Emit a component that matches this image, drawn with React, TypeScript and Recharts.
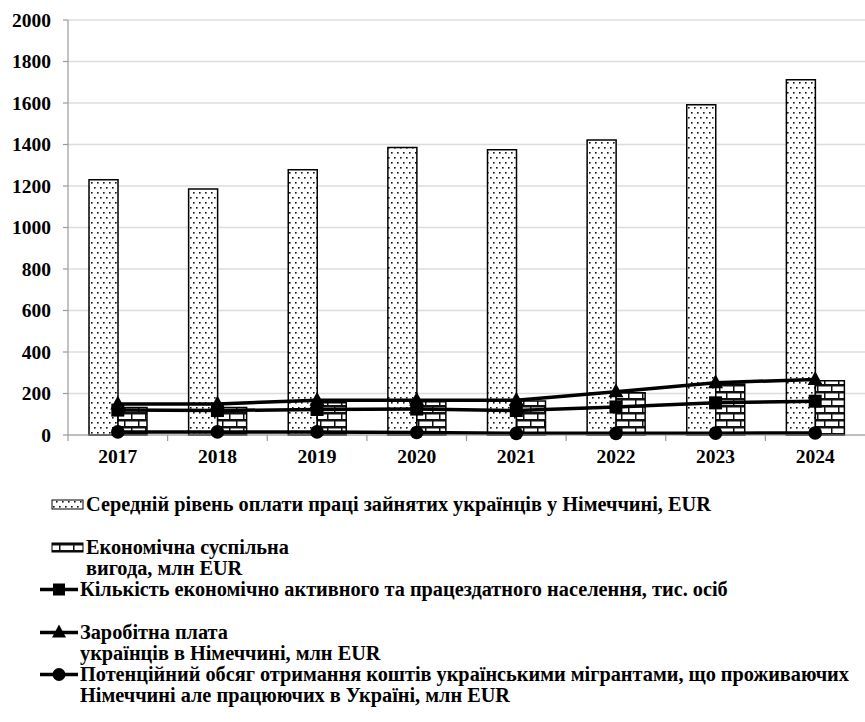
import React from 'react';
import { ComposedChart, Bar, Line, XAxis, YAxis, CartesianGrid } from 'recharts';

const years = ['2017', '2018', '2019', '2020', '2021', '2022', '2023', '2024'];
const avgWage = [1230, 1185, 1278, 1385, 1375, 1422, 1592, 1712];
const socialBenefit = [133, 133, 156, 160, 164, 204, 246, 262];
const activePopulation = [120, 118, 123, 125, 118, 135, 155, 163];
const wagesTotal = [150, 150, 168, 168, 168, 209, 252, 268];
const potentialFunds = [15, 15, 15, 12, 8, 8, 9, 10];
const yTicks = [0, 200, 400, 600, 800, 1000, 1200, 1400, 1600, 1800, 2000];

const labels = {
  avgWage: 'Середній рівень оплати праці зайнятих українців у Німеччині, EUR',
  socialBenefit: ['Економічна суспільна', 'вигода, млн EUR'],
  activePopulation: 'Кількість економічно активного та працездатного населення, тис. осіб',
  wagesTotal: ['Заробітна плата', 'українців в Німеччині, млн EUR'],
  potentialFunds: [
    'Потенційний обсяг отримання коштів українськими мігрантами, що проживаючих',
    'Німеччині але працюючих в Україні, млн EUR',
  ],
};

const data = years.map((year, i) => ({
  year,
  avgWage: avgWage[i],
  socialBenefit: socialBenefit[i],
  activePopulation: activePopulation[i],
  wagesTotal: wagesTotal[i],
  potentialFunds: potentialFunds[i],
}));

const FONT = '"Liberation Serif", "Times New Roman", serif';
const X_TICK_MARGIN = 14;

function Patterns({ prefix }: { prefix: string }) {
  return (
    <defs>
      <pattern id={`${prefix}-dots`} patternUnits="userSpaceOnUse" width="6" height="10">
        <rect width="6" height="10" fill="#fff" />
        <rect x="1" y="2" width="1.6" height="1.6" fill="#111" />
        <rect x="4" y="7" width="1.6" height="1.6" fill="#111" />
      </pattern>
      <pattern id={`${prefix}-bricks`} patternUnits="userSpaceOnUse" width="14" height="14">
        <rect width="14" height="14" fill="#111" />
        <rect x="0" y="1.5" width="12" height="4.5" fill="#fff" />
        <rect x="13.5" y="1.5" width="0.5" height="4.5" fill="#fff" />
        <rect x="0" y="8.5" width="5" height="4.5" fill="#fff" />
        <rect x="6.5" y="8.5" width="7.5" height="4.5" fill="#fff" />
      </pattern>
    </defs>
  );
}

function XTick(props: any) {
  const { x, y, payload } = props;
  const off = payload && payload.offset ? payload.offset : 0;
  const axisY = y - X_TICK_MARGIN;
  return (
    <g>
      <line x1={x - off} x2={x - off} y1={axisY} y2={axisY + 6} stroke="#9a9a9a" strokeWidth={1.2} />
      <text x={x} y={y} dy="0.71em" textAnchor="middle" fontFamily={FONT} fontWeight="bold" fontSize={19.5} fill="#000">
        {payload.value}
      </text>
    </g>
  );
}

function SquareDot(props: any) {
  const { cx, cy } = props;
  if (cx == null || cy == null) return null;
  return <rect x={cx - 6.5} y={cy - 6.5} width={13} height={13} fill="#000" />;
}

function TriangleDot(props: any) {
  const { cx, cy } = props;
  if (cx == null || cy == null) return null;
  return <path d={`M${cx},${cy - 8.5} L${cx + 7.5},${cy + 5.5} L${cx - 7.5},${cy + 5.5} Z`} fill="#000" />;
}

function CircleDot(props: any) {
  const { cx, cy } = props;
  if (cx == null || cy == null) return null;
  return <circle cx={cx} cy={cy} r={6.8} fill="#000" />;
}

const textStyle: React.CSSProperties = {
  fontFamily: FONT,
  fontWeight: 'bold',
  fontSize: 20.3,
  lineHeight: '21px',
  color: '#000',
  whiteSpace: 'nowrap',
};

function LegendIcon({ kind }: { kind: string }) {
  const isBar = kind === 'dots' || kind === 'bricks';
  return (
    <svg width={isBar ? 46 : 40} height={21} style={{ display: 'block', flex: 'none' }}>
      <Patterns prefix={`lg-${kind}`} />
      {kind === 'dots' && (
        <rect x={12} y={6} width={31} height={9} fill={`url(#lg-${kind}-dots)`} stroke="#000" strokeWidth={1} />
      )}
      {kind === 'bricks' && (
        <rect x={12} y={6} width={31} height={9} fill={`url(#lg-${kind}-bricks)`} stroke="#000" strokeWidth={1} />
      )}
      {!isBar && <line x1={0} x2={38} y1={10.5} y2={10.5} stroke="#000" strokeWidth={3.5} />}
      {kind === 'square' && <rect x={13} y={4.5} width={12} height={12} fill="#000" />}
      {kind === 'triangle' && <path d="M19,2.5 L26,15.5 L12,15.5 Z" fill="#000" />}
      {kind === 'circle' && <circle cx={19} cy={10.5} r={6.5} fill="#000" />}
    </svg>
  );
}

function LegendItem({ kind, lines }: { kind: string; lines: string[] }) {
  return (
    <div style={{ display: 'flex', alignItems: 'flex-start', height: 42.5 }}>
      <LegendIcon kind={kind} />
      <div style={textStyle}>
        {lines.map((l, i) => (
          <div key={i}>{l}</div>
        ))}
      </div>
    </div>
  );
}

export default function App() {
  return (
    <div style={{ position: 'absolute', left: 0, top: 0, width: 865, height: 722, background: '#fff', overflow: 'hidden' }}>
      <ComposedChart
        width={865}
        height={470}
        data={data}
        margin={{ top: 20, right: 0, bottom: 5, left: 0 }}
        barGap={0}
      >
        <Patterns prefix="ch" />
        <CartesianGrid vertical={false} stroke="#dcdcdc" strokeWidth={1.5} />
        <XAxis
          dataKey="year"
          height={30}
          tickLine={false}
          tickSize={0}
          tickMargin={X_TICK_MARGIN}
          axisLine={{ stroke: '#9a9a9a', strokeWidth: 1.2 }}
          tick={<XTick />}
          interval={0}
        />
        <YAxis
          width={68}
          domain={[0, 2000]}
          ticks={yTicks}
          interval={0}
          tickSize={5}
          tickMargin={12}
          axisLine={{ stroke: '#9a9a9a', strokeWidth: 1.2 }}
          tickLine={{ stroke: '#9a9a9a', strokeWidth: 1.2 }}
          tick={{ fontFamily: FONT, fontWeight: 'bold', fontSize: 19.5, fill: '#000' }}
        />
        <Bar dataKey="avgWage" barSize={29} fill="url(#ch-dots)" stroke="#000" strokeWidth={1.5} isAnimationActive={false} />
        <Bar dataKey="socialBenefit" barSize={29} fill="url(#ch-bricks)" stroke="#000" strokeWidth={1.5} isAnimationActive={false} />
        <Line dataKey="wagesTotal" stroke="#000" strokeWidth={3.5} dot={<TriangleDot />} activeDot={false} isAnimationActive={false} />
        <Line dataKey="activePopulation" stroke="#000" strokeWidth={3.5} dot={<SquareDot />} activeDot={false} isAnimationActive={false} />
        <Line dataKey="potentialFunds" stroke="#000" strokeWidth={3.5} dot={<CircleDot />} activeDot={false} isAnimationActive={false} />
      </ComposedChart>
      <div style={{ position: 'absolute', left: 40, top: 494 }}>
        <LegendItem kind="dots" lines={[labels.avgWage]} />
        <LegendItem kind="bricks" lines={labels.socialBenefit} />
        <LegendItem kind="square" lines={[labels.activePopulation]} />
        <LegendItem kind="triangle" lines={labels.wagesTotal} />
        <LegendItem kind="circle" lines={labels.potentialFunds} />
      </div>
    </div>
  );
}
